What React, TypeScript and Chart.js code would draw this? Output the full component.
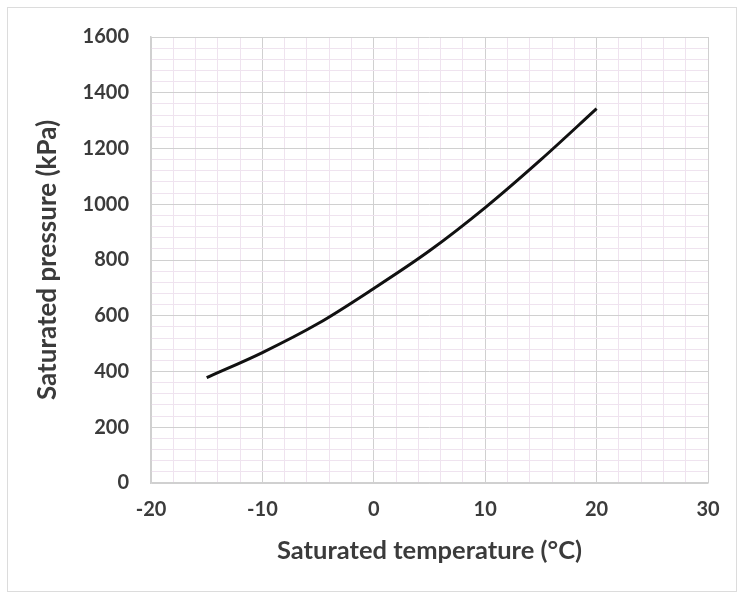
import React, { useEffect, useRef } from "react";
import { Chart, registerables } from "chart.js";

Chart.register(...registerables);

const temperatures = [-15, -10, -5, 0, 5, 10, 15, 20];
const pressures = [378, 468, 572, 698, 833, 988, 1160, 1343];

const xMin = -20;
const xMax = 30;
const xMinorStep = 2;
const xMajorStep = 10;
const yMin = 0;
const yMax = 1600;
const yMinorStep = 40;
const yMajorStep = 200;

const xTitle = "Saturated temperature (°C)";
const yTitle = "Saturated pressure (kPa)";

const FONT = "Lato, 'Open Sans', sans-serif";
const TEXT = "#3b3b3b";
const MAJOR = "#d0d0d0";
const MINOR = "#efe3ef";

const isMajor = (v: number, step: number) => Math.abs(Math.round(v / step) * step - v) < 1e-6;

export default function App() {
  const ref = useRef<HTMLCanvasElement | null>(null);

  useEffect(() => {
    if (!ref.current) return;
    const chart = new Chart(ref.current, {
      type: "line",
      data: {
        datasets: [
          {
            data: temperatures.map((t, i) => ({ x: t, y: pressures[i] })),
            borderColor: "#111111",
            borderWidth: 3,
            pointRadius: 0,
            cubicInterpolationMode: "monotone",
            fill: false,
          },
        ],
      },
      options: {
        animation: false,
        responsive: false,
        maintainAspectRatio: false,
        layout: { padding: { left: 0, top: 37, right: 35, bottom: 0 } },
        plugins: { legend: { display: false }, tooltip: { enabled: false } },
        scales: {
          x: {
            type: "linear",
            min: xMin,
            max: xMax,
            afterFit: (s: any) => {
              s.height = 596 - 483;
            },
            ticks: {
              stepSize: xMinorStep,
              autoSkip: false,
              maxRotation: 0,
              maxTicksLimit: 200,
              padding: 15,
              color: TEXT,
              font: { family: FONT, size: 20, weight: "bold" },
              callback: (v: any) => (isMajor(Number(v), xMajorStep) ? String(v) : ""),
            },
            grid: {
              drawTicks: false,
              color: (c: any) => (isMajor(c.tick.value, xMajorStep) ? MAJOR : MINOR),
              lineWidth: 1,
            },
            border: { display: true, color: MAJOR, width: 1.5 },
            title: {
              display: true,
              text: xTitle,
              color: TEXT,
              font: { family: FONT, size: 25.5, weight: "bold" },
              padding: { top: 0, bottom: 30 },
            },
          },
          y: {
            type: "linear",
            min: yMin,
            max: yMax,
            afterFit: (s: any) => {
              s.width = 151;
            },
            ticks: {
              stepSize: yMinorStep,
              autoSkip: false,
              maxTicksLimit: 200,
              padding: 22,
              color: TEXT,
              font: { family: FONT, size: 20, weight: "bold" },
              callback: (v: any) => (isMajor(Number(v), yMajorStep) ? String(v) : ""),
            },
            grid: {
              drawTicks: false,
              color: (c: any) => (isMajor(c.tick.value, yMajorStep) ? MAJOR : MINOR),
              lineWidth: 1,
            },
            border: { display: true, color: MAJOR, width: 1.5 },
            title: {
              display: true,
              text: yTitle,
              color: TEXT,
              font: { family: FONT, size: 26, weight: "bold" },
              padding: { top: 32, bottom: 0 },
            },
          },
        },
      },
    });
    return () => chart.destroy();
  }, []);

  return (
    <div style={{ position: "fixed", left: 0, top: 0, width: 743, height: 596, background: "#fff" }}>
      <canvas ref={ref} width={743} height={596} style={{ position: "absolute", left: 0, top: 0 }} />
      <div
        style={{
          position: "absolute",
          left: 7,
          top: 7,
          width: 730,
          height: 585,
          border: "1px solid #dcdcdc",
          pointerEvents: "none",
          boxSizing: "border-box",
        }}
      />
    </div>
  );
}
